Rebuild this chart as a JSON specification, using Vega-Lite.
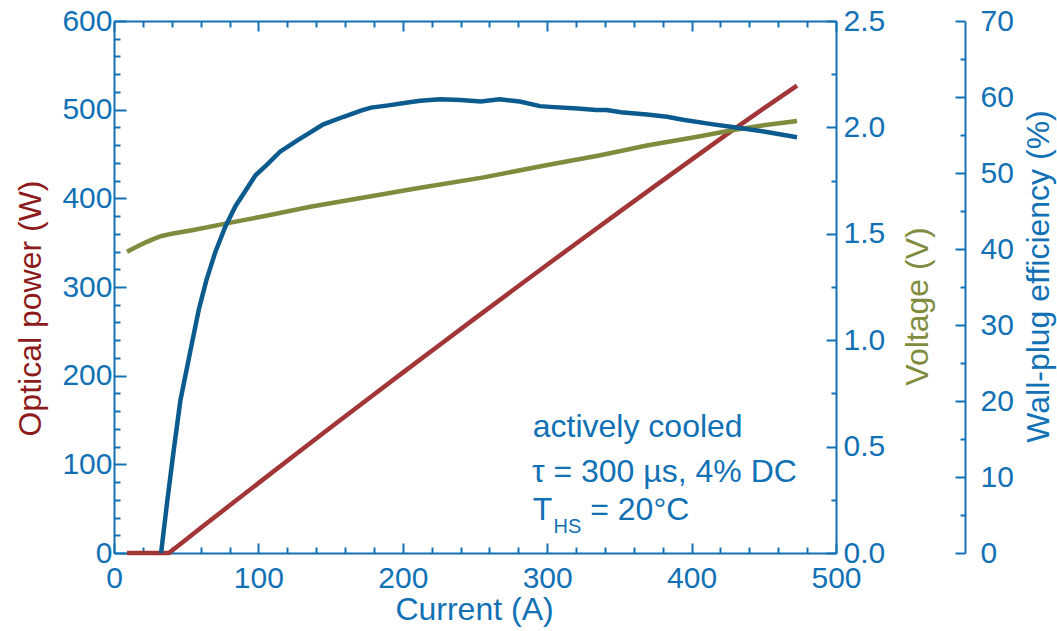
{
  "$schema": "https://vega.github.io/schema/vega-lite/v6.json",
  "width": 722,
  "height": 532,
  "autosize": {"type": "none"},
  "padding": {"left": 114, "top": 21, "right": 221, "bottom": 78},
  "background": "white",
  "config": {
    "view": {"stroke": null},
    "font": "Liberation Sans",
    "axis": {
      "labelFont": "Liberation Sans",
      "titleFont": "Liberation Sans",
      "labelFontSize": 30,
      "titleFontSize": 32,
      "titleFontWeight": "normal",
      "domainColor": "#1271b5",
      "tickColor": "#1271b5",
      "labelColor": "#1271b5",
      "titleColor": "#1271b5",
      "grid": false,
      "domainWidth": 2,
      "tickWidth": 2,
      "labelFlush": false,
      "labelOverlap": false,
      "labelBound": false
    }
  },
  "datasets": {
    "power": [
      {"current": 9, "power": 0}, {"current": 38, "power": 0}, {"current": 50, "power": 15.3},
      {"current": 60, "power": 28.1}, {"current": 80, "power": 53.5}, {"current": 100, "power": 78.8},
      {"current": 125, "power": 110.2}, {"current": 150, "power": 141.5}, {"current": 175, "power": 172.5},
      {"current": 200, "power": 203.4}, {"current": 225, "power": 234.1}, {"current": 250, "power": 264.6},
      {"current": 275, "power": 294.9}, {"current": 300, "power": 325.1}, {"current": 325, "power": 355},
      {"current": 350, "power": 384.8}, {"current": 375, "power": 414.3}, {"current": 400, "power": 443.7},
      {"current": 425, "power": 472.9}, {"current": 450, "power": 501.5}, {"current": 473, "power": 527}
    ],
    "voltage": [
      {"current": 9, "voltage": 1.416}, {"current": 15, "voltage": 1.437}, {"current": 22, "voltage": 1.46},
      {"current": 28, "voltage": 1.477}, {"current": 33, "voltage": 1.49}, {"current": 40, "voltage": 1.5},
      {"current": 55, "voltage": 1.518}, {"current": 78, "voltage": 1.549}, {"current": 108, "voltage": 1.588},
      {"current": 136, "voltage": 1.627}, {"current": 170, "voltage": 1.667}, {"current": 210, "voltage": 1.714},
      {"current": 256, "voltage": 1.765}, {"current": 302, "voltage": 1.826}, {"current": 336, "voltage": 1.868},
      {"current": 369, "voltage": 1.915}, {"current": 404, "voltage": 1.956}, {"current": 427, "voltage": 1.985},
      {"current": 450, "voltage": 2.01}, {"current": 473, "voltage": 2.03}
    ],
    "efficiency": [
      {"current": 32.6, "eff": 0}, {"current": 37, "eff": 7}, {"current": 41.4, "eff": 13.6},
      {"current": 46, "eff": 20.1}, {"current": 53, "eff": 26.7}, {"current": 58.7, "eff": 32},
      {"current": 64, "eff": 35.9}, {"current": 70, "eff": 39.5}, {"current": 77, "eff": 42.9},
      {"current": 84, "eff": 45.6}, {"current": 98, "eff": 49.7}, {"current": 106, "eff": 51.1},
      {"current": 115, "eff": 52.8}, {"current": 127, "eff": 54.3}, {"current": 145, "eff": 56.4},
      {"current": 159, "eff": 57.4}, {"current": 171, "eff": 58.2}, {"current": 178, "eff": 58.6},
      {"current": 190, "eff": 58.9}, {"current": 201, "eff": 59.2}, {"current": 212, "eff": 59.5},
      {"current": 226, "eff": 59.7}, {"current": 240, "eff": 59.6}, {"current": 254, "eff": 59.4},
      {"current": 267, "eff": 59.7}, {"current": 281, "eff": 59.4}, {"current": 295, "eff": 58.8},
      {"current": 302, "eff": 58.7}, {"current": 321, "eff": 58.5}, {"current": 334, "eff": 58.3},
      {"current": 341, "eff": 58.3}, {"current": 351, "eff": 58.0}, {"current": 369, "eff": 57.7},
      {"current": 383, "eff": 57.4}, {"current": 394, "eff": 57.0}, {"current": 415, "eff": 56.4},
      {"current": 431, "eff": 56.0}, {"current": 452, "eff": 55.4}, {"current": 473, "eff": 54.7}
    ],
    "notes": [
      {"label": "actively cooled", "current": 290, "power": 130.8},
      {"label": "τ = 300 µs, 4% DC", "current": 289.4, "power": 80.4},
      {"label": "T", "current": 290, "power": 37.2},
      {"label": "= 20°C", "current": 329.8, "power": 37.2}
    ],
    "subscript": [
      {"label": "HS", "current": 304.4, "power": 22.9}
    ]
  },
  "layer": [
    {
      "layer": [
        {
          "data": {"name": "power"},
          "mark": {"type": "line", "color": "#a23535", "strokeWidth": 4.5},
          "encoding": {
            "x": {
              "field": "current", "type": "quantitative",
              "scale": {"domain": [0, 500], "nice": false},
              "axis": {
                "orient": "bottom",
                "title": "Current (A)",
                "values": [0,20,40,60,80,100,120,140,160,180,200,220,240,260,280,300,320,340,360,380,400,420,440,460,480,500],
                "labelExpr": "datum.value % 100 === 0 ? datum.label : ''",
                "tickSize": {"condition": {"test": "datum.value % 100 === 0", "value": -10}, "value": -6},
                "labelPadding": 20,
                "titleX": 360, "titleY": 56, "titleAlign": "center", "titleBaseline": "middle"
              }
            },
            "y": {
              "field": "power", "type": "quantitative",
              "scale": {"domain": [0, 600], "nice": false},
              "axis": {
                "orient": "left",
                "title": "Optical power (W)",
                "titleColor": "#8e1b1b",
                "values": [0,20,40,60,80,100,120,140,160,180,200,220,240,260,280,300,320,340,360,380,400,420,440,460,480,500,520,540,560,580,600],
                "labelExpr": "datum.value % 100 === 0 ? datum.label : ''",
                "tickSize": {"condition": {"test": "datum.value % 100 === 0", "value": -12}, "value": -6},
                "labelPadding": 14,
                "titleX": -84, "titleY": 287, "titleAlign": "center", "titleBaseline": "middle", "titleAngle": -90
              }
            }
          }
        },
        {
          "data": {"name": "power"},
          "mark": {"type": "line", "opacity": 0},
          "encoding": {
            "x": {
              "field": "current", "type": "quantitative",
              "axis": {
                "orient": "top",
                "title": null,
                "labels": false,
                "values": [0,20,40,60,80,100,120,140,160,180,200,220,240,260,280,300,320,340,360,380,400,420,440,460,480,500],
                "tickSize": {"condition": {"test": "datum.value % 100 === 0", "value": -10}, "value": -6}
              }
            },
            "y": {"field": "power", "type": "quantitative", "axis": null}
          }
        },
        {
          "data": {"name": "notes"},
          "mark": {"type": "text", "align": "left", "baseline": "alphabetic", "fontSize": 32, "font": "Liberation Sans", "color": "#1271b5"},
          "encoding": {
            "x": {"field": "current", "type": "quantitative", "axis": null},
            "y": {"field": "power", "type": "quantitative", "axis": null},
            "text": {"field": "label"}
          }
        },
        {
          "data": {"name": "subscript"},
          "mark": {"type": "text", "align": "left", "baseline": "alphabetic", "fontSize": 20, "font": "Liberation Sans", "color": "#1271b5"},
          "encoding": {
            "x": {"field": "current", "type": "quantitative", "axis": null},
            "y": {"field": "power", "type": "quantitative", "axis": null},
            "text": {"field": "label"}
          }
        }
      ],
      "resolve": {"axis": {"x": "independent", "y": "independent"}}
    },
    {
      "data": {"name": "voltage"},
      "mark": {"type": "line", "color": "#7f8c3e", "strokeWidth": 4.5},
      "encoding": {
        "x": {"field": "current", "type": "quantitative", "axis": null},
        "y": {
          "field": "voltage", "type": "quantitative",
          "scale": {"domain": [0, 2.5], "nice": false},
          "axis": {
            "orient": "right",
            "title": "Voltage (V)",
            "titleColor": "#7f8c3e",
            "values": [0, 0.25, 0.5, 0.75, 1, 1.25, 1.5, 1.75, 2, 2.25, 2.5],
            "labelExpr": "round(datum.value * 4) % 2 === 0 ? format(datum.value, '.1f') : ''",
            "tickSize": {"condition": {"test": "round(datum.value * 4) % 2 === 0", "value": -10}, "value": -5},
            "labelPadding": 17,
            "titleX": 81, "titleY": 285, "titleAlign": "center", "titleBaseline": "middle", "titleAngle": -90
          }
        }
      }
    },
    {
      "data": {"name": "efficiency"},
      "mark": {"type": "line", "color": "#0b5b8e", "strokeWidth": 4.5},
      "encoding": {
        "x": {"field": "current", "type": "quantitative", "axis": null},
        "y": {
          "field": "eff", "type": "quantitative",
          "scale": {"domain": [0, 70], "nice": false},
          "axis": {
            "orient": "right",
            "offset": 129,
            "title": "Wall-plug efficiency (%)",
            "values": [0, 5, 10, 15, 20, 25, 30, 35, 40, 45, 50, 55, 60, 65, 70],
            "labelExpr": "datum.value % 10 === 0 ? datum.label : ''",
            "tickSize": {"condition": {"test": "datum.value % 10 === 0", "value": -10}, "value": -5},
            "labelPadding": 25,
            "titleX": 73, "titleY": 255, "titleAlign": "center", "titleBaseline": "middle", "titleAngle": -90
          }
        }
      }
    }
  ],
  "resolve": {"scale": {"y": "independent"}, "axis": {"x": "independent", "y": "independent"}}
}
